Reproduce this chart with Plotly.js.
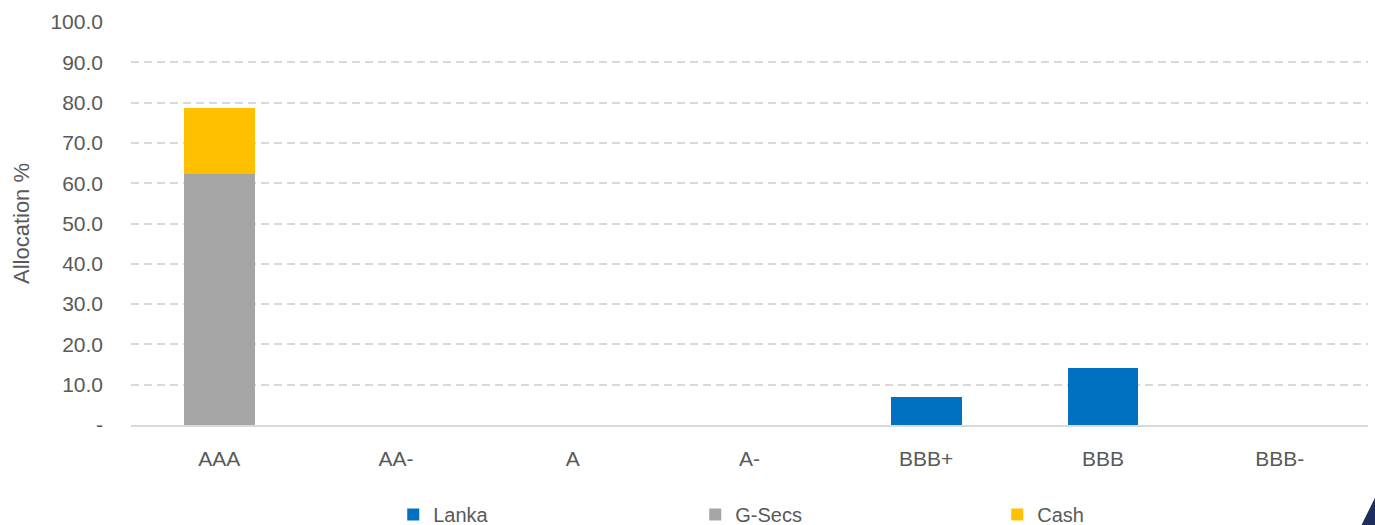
<!DOCTYPE html>
<html>
<head>
<meta charset="utf-8">
<script src="https://cdn.plot.ly/plotly-3.0.1.min.js"></script>
<style>html,body{margin:0;padding:0;background:#fff;overflow:hidden;}#chart{width:1375px;height:525px;}</style>
</head>
<body>
<div id="chart"></div>
<script>
const categories = ["AAA", "AA-", "A", "A-", "BBB+", "BBB", "BBB-"];
const lanka = [0, 0, 0, 0, 7.0, 14.1, 0];
const gsecs = [62.3, 0, 0, 0, 0, 0, 0];
const cash = [16.4, 0, 0, 0, 0, 0, 0];
const tickValues = [0, 10, 20, 30, 40, 50, 60, 70, 80, 90, 100];
const tickLabels = ["-", "10.0", "20.0", "30.0", "40.0", "50.0", "60.0", "70.0", "80.0", "90.0", "100.0"];

const font = "Liberation Sans, Arial, sans-serif";
const traces = [
  {type: "bar", name: "Lanka", x: categories, y: lanka, marker: {color: "#0070c0"}},
  {type: "bar", name: "G-Secs", x: categories, y: gsecs, marker: {color: "#a5a5a5"}},
  {type: "bar", name: "Cash", x: categories, y: cash, marker: {color: "#ffc000"}}
];
const layout = {
  width: 1375, height: 525,
  barmode: "stack", bargap: 0.6,
  margin: {l: 131, r: 7, t: 22, b: 100, autoexpand: false},
  paper_bgcolor: "#fff", plot_bgcolor: "#fff",
  font: {family: font, size: 21, color: "#595959"},
  showlegend: true,
  legend: {orientation: "h", x: 0.212, xanchor: "left", y: -0.222, yanchor: "middle",
           entrywidth: 257, entrywidthmode: "pixels", traceorder: "normal",
           font: {family: font, size: 20, color: "#595959"}},
  xaxis: {type: "category", showgrid: false, zeroline: false, showline: true,
          linecolor: "#d9d9d9", linewidth: 2, ticks: "", ticklabelstandoff: 14,
          tickfont: {family: font, size: 21, color: "#595959"}},
  yaxis: {range: [0, 100], tickvals: tickValues, ticktext: tickLabels,
          showgrid: true, gridcolor: "#d9d9d9", griddash: "8px,5px", gridwidth: 2,
          zeroline: false, showline: false, ticks: "", ticklabelstandoff: 27,
          tickfont: {family: font, size: 21, color: "#595959"},
          title: {text: "Allocation %", font: {family: font, size: 22, color: "#595959"}, standoff: 14}},
  shapes: [
    {type: "path", xref: "paper", yref: "paper",
     path: "M 0.9945 -0.25 L 1.0057 -0.18 L 1.0057 -0.25 Z",
     fillcolor: "#1f2d5c", line: {width: 0}}
  ]
};
Plotly.newPlot("chart", traces, layout, {displayModeBar: false, staticPlot: true});
</script>
</body>
</html>
